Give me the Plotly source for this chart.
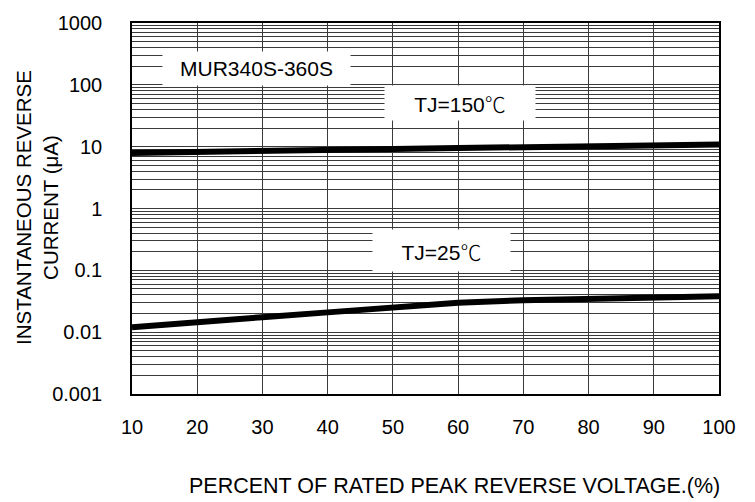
import plotly.graph_objects as go

# Data
voltage_pct = [10, 20, 30, 40, 50, 60, 70, 80, 90, 100]
ir_tj150 = [7.9, 8.1, 8.4, 8.8, 9.2, 9.5, 9.8, 10.1, 10.5, 10.8]
ir_tj25 = [0.012, 0.0141, 0.0175, 0.0209, 0.0257, 0.030, 0.0328, 0.0348, 0.0366, 0.038]
y_tickvals = [0.001, 0.01, 0.1, 1, 10, 100, 1000]
y_ticktext = ["0.001", "0.01", "0.1", "1", "10", "100", "1000"]
x_tickvals = [10, 20, 30, 40, 50, 60, 70, 80, 90, 100]

FONT = "Liberation Sans, Arial, sans-serif"
GRID = "#3a3a3a"

fig = go.Figure()
fig.add_trace(go.Scatter(x=voltage_pct, y=ir_tj150, mode="lines",
                         line=dict(color="black", width=6), name="TJ=150℃"))
fig.add_trace(go.Scatter(x=voltage_pct, y=ir_tj25, mode="lines",
                         line=dict(color="black", width=6), name="TJ=25℃"))

L, R, T, B = 132, 36, 17, 108
W, H = 755, 502
pw, ph = W - L - R, H - T - B


def px(xp):
    return (xp - L) / pw


def py(yp):
    return (H - B - yp) / ph


fig.update_layout(
    width=W, height=H,
    margin=dict(l=L, r=R, t=T, b=B, pad=0),
    paper_bgcolor="white", plot_bgcolor="white",
    showlegend=False,
    font=dict(family=FONT, size=20, color="black"),
    xaxis=dict(range=[10, 100], tickvals=x_tickvals, ticks="",
               showgrid=True, gridcolor=GRID, gridwidth=1,
               showline=True, linecolor="black", linewidth=1.5, mirror=True,
               zeroline=False, ticklabelstandoff=14,
               tickfont=dict(family=FONT, size=20)),
    yaxis=dict(type="log", range=[-3, 3], tickvals=y_tickvals, ticktext=y_ticktext,
               ticks="", showgrid=True, gridcolor=GRID, gridwidth=1,
               minor=dict(dtick="D1", showgrid=True, gridcolor=GRID, gridwidth=1, ticks=""),
               showline=True, linecolor="black", linewidth=1.5, mirror=True,
               zeroline=False, ticklabelstandoff=24,
               tickfont=dict(family=FONT, size=20)),
)

DEG = '<span style="font-family:Noto Sans CJK SC;font-weight:300">℃</span>'
ann_font = dict(family=FONT, size=21, color="black")
fig.add_annotation(text="MUR340S-360S", xref="paper", yref="paper",
                   x=px(256.5), y=py(63.5), xanchor="center", yanchor="middle",
                   showarrow=False, bgcolor="white", width=187, height=33,
                   borderpad=0, font=ann_font)
fig.add_annotation(text="TJ=150" + DEG, xref="paper", yref="paper",
                   x=px(460), y=py(98), xanchor="center", yanchor="middle",
                   showarrow=False, bgcolor="white", width=150, height=34,
                   borderpad=0, font=ann_font)
fig.add_annotation(text="TJ=25" + DEG, xref="paper", yref="paper",
                   x=px(441.5), y=py(248.5), xanchor="center", yanchor="middle",
                   showarrow=False, bgcolor="white", width=137, height=41,
                   borderpad=0, font=ann_font)

# Axis titles
fig.add_annotation(text="PERCENT OF RATED PEAK REVERSE VOLTAGE.(%)", xref="paper", yref="paper",
                   x=px(454), y=py(487), xanchor="center", yanchor="middle",
                   showarrow=False, font=dict(family=FONT, size=21.5, color="black"))
fig.add_annotation(text="INSTANTANEOUS REVERSE<br>CURRENT (μA)", xref="paper", yref="paper",
                   x=px(37), y=py(205), xanchor="center", yanchor="middle",
                   textangle=-90, showarrow=False,
                   font=dict(family=FONT, size=20.5, color="black"))

post = ("document.body.style.margin='0';document.body.style.overflow='hidden';"
        "var d=document.getElementById('{plot_id}');"
        "d.style.position='fixed';d.style.top='0px';d.style.left='0px';")
fig.write_html("out.html", post_script=post, config={"displayModeBar": False})
